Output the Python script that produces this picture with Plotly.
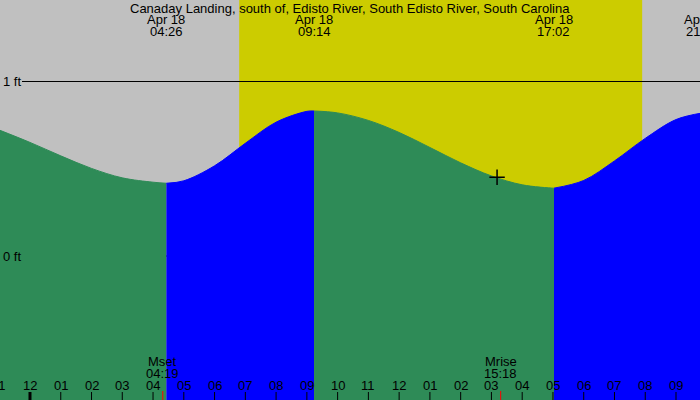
import plotly.graph_objects as go

# ---------------- data ----------------
TITLE = "Canaday Landing, south of, Edisto River, South Edisto River, South Carolina"
DATE_LABEL = "Apr 18"

HOURS = list(range(-1, 23))  # hour of Apr 18 (-1 = 11 PM Apr 17)
HOURLY_FT = [0.722, 0.651, 0.574, 0.502, 0.448, 0.423, 0.431, 0.517, 0.646,
             0.767, 0.829, 0.820, 0.777, 0.708, 0.622, 0.534, 0.459, 0.408,
             0.389, 0.433, 0.545, 0.674, 0.782, 0.819]

EXTREME_TIMES = ["04:26", "09:14", "17:02", "21:52"]
EXTREME_FT = [0.417, 0.831, 0.389, 0.820]
EXTREME_KIND = ["low", "high", "low", "high"]

SUNRISE = "06:48"
SUNSET = "19:54"

MOON_EVENTS = ["Mset", "Mrise"]
MOON_TIMES = ["04:19", "15:18"]

NOW_TIME = "15:11"
NOW_FT = 0.451

LEVELS_FT = [0, 1]
LEVEL_LABELS = ["0 ft", "1 ft"]

X_RANGE = [-0.975, 21.78]
Y_RANGE = [-0.825, 1.467]

# ---------------- styling ----------------
W, H = 700, 400
GRAY = "#C0C0C0"
YELLOW = "#CCCC00"
GREEN = "#2E8B57"
BLUE = "#0000FF"
FONT = "Liberation Sans, Arial, sans-serif"
FS = 13


def hrs(s):
    h, m = s.split(":")
    return int(h) + int(m) / 60.0


def px_x(t):
    return (t - X_RANGE[0]) / (X_RANGE[1] - X_RANGE[0])


def py(ypix):
    return 1 - ypix / H


ext_t = [hrs(s) for s in EXTREME_TIMES]

pts = sorted(list(zip(HOURS, HOURLY_FT)) + list(zip(ext_t, EXTREME_FT)))

bounds = [HOURS[0]] + ext_t + [HOURS[-1]]
colors = [GREEN if k == "low" else BLUE for k in EXTREME_KIND] + [GREEN]

fig = go.Figure()
floor = Y_RANGE[0] - 1
for i in range(len(bounds) - 1):
    a, b = bounds[i], bounds[i + 1]
    seg = [(t, v) for t, v in pts if a - 1e-9 <= t <= b + 1e-9]
    xs = [p[0] for p in seg]
    ys = [p[1] for p in seg]
    fig.add_trace(go.Scatter(x=xs, y=[floor] * len(xs), mode="lines",
                             line=dict(width=0), hoverinfo="skip", showlegend=False))
    fig.add_trace(go.Scatter(x=xs, y=ys, mode="lines", fill="tonexty",
                             fillcolor=colors[i],
                             line=dict(width=1, color=colors[i], shape="spline", smoothing=1),
                             hoverinfo="skip", showlegend=False))

fig.add_trace(go.Scatter(x=[hrs(NOW_TIME)], y=[NOW_FT], mode="markers",
                         marker=dict(symbol="cross-thin", size=11,
                                     line=dict(width=1.5, color="black")),
                         hoverinfo="skip", showlegend=False))

shapes = []
shapes.append(dict(type="rect", xref="x", yref="paper", x0=hrs(SUNRISE), x1=hrs(SUNSET),
                   y0=0, y1=1, fillcolor=YELLOW, line=dict(width=0), layer="below"))
for lv in LEVELS_FT:
    shapes.append(dict(type="line", xref="paper", yref="y", x0=22 / W, x1=1, y0=lv, y1=lv,
                       line=dict(color="black", width=1), layer="below"))
for h in HOURS:
    shapes.append(dict(type="line", xref="x", yref="paper", x0=h, x1=h, y0=0, y1=8 / H,
                       line=dict(color="black", width=3 if h % 24 == 0 else 1), layer="above"))
for mt in MOON_TIMES:
    t = hrs(mt)
    shapes.append(dict(type="line", xref="x", yref="paper", x0=t, x1=t, y0=0, y1=9 / H,
                       line=dict(color="red", width=1), layer="above"))

ann = []
txt = dict(family=FONT, size=FS, color="black")


def add_text(text, xp, ypix):
    ann.append(dict(text=text, xref="paper", yref="paper", x=xp, y=py(ypix),
                    xanchor="center", yanchor="middle", showarrow=False, font=txt))


add_text(TITLE, 0.5, 8)
for s, t in zip(EXTREME_TIMES, ext_t):
    add_text(DATE_LABEL, px_x(t), 19.5)
    add_text(s, px_x(t), 31.5)
for name, mt in zip(MOON_EVENTS, MOON_TIMES):
    t = hrs(mt)
    add_text(name, px_x(t), 361.5)
    add_text(mt, px_x(t), 373.5)
for h in HOURS:
    hh = h % 12
    add_text("%02d" % (12 if hh == 0 else hh), px_x(h), 385.5)
for lv, lab in zip(LEVELS_FT, LEVEL_LABELS):
    ann.append(dict(text=lab, xref="paper", yref="y", x=0, y=lv, xshift=1,
                    xanchor="left", yanchor="middle", showarrow=False, font=txt))

fig.update_layout(
    width=W, height=H, margin=dict(l=0, r=0, t=0, b=0),
    paper_bgcolor=GRAY, plot_bgcolor=GRAY,
    xaxis=dict(range=X_RANGE, visible=False, fixedrange=True),
    yaxis=dict(range=Y_RANGE, visible=False, fixedrange=True),
    shapes=shapes, annotations=ann, showlegend=False,
)

fig.write_html("out.html", config={"displayModeBar": False},
               post_script="document.body.style.margin='0';document.body.style.padding='0';")
